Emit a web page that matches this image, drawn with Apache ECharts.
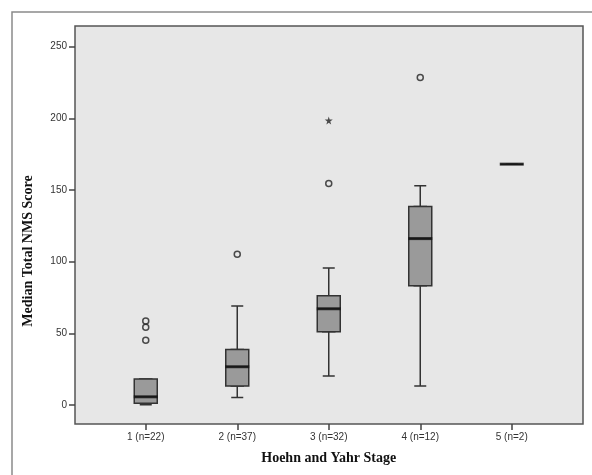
<!DOCTYPE html>
<html>
<head>
<meta charset="utf-8">
<script src="https://cdn.jsdelivr.net/npm/echarts@6/dist/echarts.min.js"></script>
<style>
html, body { margin: 0; padding: 0; background: #fff; }
#chart { width: 592px; height: 475px; }
</style>
</head>
<body>
<div id="chart"></div>
<script>
// Hoehn and Yahr stage groups
var stages = ['1 (n=22)', '2 (n=37)', '3 (n=32)', '4 (n=12)', '5 (n=2)'];
var whiskerLow = [0, 5, 20, 13, 168];
var q1 = [1, 13, 51, 83, 168];
var median = [5.5, 26.5, 67, 116, 168];
var q3 = [18, 38.5, 76, 138.5, 168];
var whiskerHigh = [18, 69, 95.5, 153, 168];
// [stage index, value]
var outliers = [[0, 45], [0, 54], [0, 58.5], [1, 105], [2, 154.5], [3, 228.5]];
var extremes = [[2, 198.5]];
var yTicks = { min: 0, max: 250, step: 50 };
var yRange = { min: -13.5, max: 264.5 };

var whiskerData = [], boxData = [], medianData = [];
for (var i = 0; i < stages.length; i++) {
	whiskerData.push([whiskerLow[i], q1[i], median[i], q3[i], whiskerHigh[i]]);
	boxData.push([q1[i], q1[i], median[i], q3[i], q3[i]]);
	medianData.push([stages[i], median[i]]);
}
function toPoints(arr) {
	var out = [];
	for (var i = 0; i < arr.length; i++) out.push([stages[arr[i][0]], arr[i][1]]);
	return out;
}

var myChart = echarts.init(document.getElementById('chart'));
var labelFont = { fontFamily: 'Liberation Sans, Arial, sans-serif', fontSize: 10, color: '#333' };
var tickStyle = { show: true, length: 6, lineStyle: { color: '#444', width: 1.5 } };

var option = {
	animation: false,
	backgroundColor: '#fff',
	graphic: [
		{ type: 'rect', shape: { x: 12, y: 12, width: 640, height: 520 }, style: { fill: 'none', stroke: '#8a8a8a', lineWidth: 1.5 }, z: -10 },
		{ type: 'text', x: 28, y: 251, rotation: Math.PI / 2,
		  style: { text: 'Median Total NMS Score', font: 'bold 14px "Liberation Serif", "Times New Roman", serif', fill: '#111', textAlign: 'center', textVerticalAlign: 'middle' } }
	],
	grid: [
		// plot frame
		{ left: 75, right: 9, top: 26, bottom: 51, show: true, backgroundColor: '#e7e7e7', borderColor: '#555', borderWidth: 1.5 },
		// boxes
		{ left: 100, right: 34.5, top: 26, bottom: 51 },
		// whiskers
		{ left: 100, right: 34.5, top: 26, bottom: 51 },
		// y tick labels
		{ left: 75, right: 9, top: 46.7, bottom: 70 }
	],
	xAxis: [
		{ gridIndex: 0, type: 'value', show: false },
		{
			gridIndex: 1, type: 'category', data: stages,
			name: 'Hoehn and Yahr Stage', nameLocation: 'middle', nameGap: 27,
			nameTextStyle: { fontFamily: 'Liberation Serif, Times New Roman, serif', fontWeight: 'bold', fontSize: 14, color: '#111' },
			axisLine: { show: false, onZero: false },
			axisTick: Object.assign({ alignWithLabel: true }, tickStyle),
			axisLabel: Object.assign({ margin: 8 }, labelFont),
			splitLine: { show: false }
		},
		{ gridIndex: 2, type: 'category', data: stages, show: false },
		{ gridIndex: 3, type: 'value', show: false }
	],
	yAxis: [
		{ gridIndex: 0, type: 'value', show: false },
		{ gridIndex: 1, type: 'value', min: yRange.min, max: yRange.max, show: false },
		{ gridIndex: 2, type: 'value', min: yRange.min, max: yRange.max, show: false },
		{
			gridIndex: 3, type: 'value', min: yTicks.min, max: yTicks.max, interval: yTicks.step,
			axisLine: { show: false, onZero: false },
			axisTick: tickStyle,
			axisLabel: Object.assign({ margin: 8 }, labelFont),
			splitLine: { show: false }
		}
	],
	series: [
		{
			// whiskers with half-width caps
			type: 'boxplot', xAxisIndex: 2, yAxisIndex: 2, z: 2,
			boxWidth: [12, 12],
			itemStyle: { color: '#9a9a9a', borderColor: '#333', borderWidth: 1.5 },
			emphasis: { disabled: true },
			data: whiskerData
		},
		{
			// interquartile boxes
			type: 'boxplot', xAxisIndex: 1, yAxisIndex: 1, z: 3,
			boxWidth: [23, 23],
			itemStyle: { color: '#9a9a9a', borderColor: '#333', borderWidth: 1.5 },
			emphasis: { disabled: true },
			data: boxData
		},
		{
			// median bars
			type: 'scatter', xAxisIndex: 1, yAxisIndex: 1, z: 4,
			symbol: 'rect', symbolSize: [24, 3],
			itemStyle: { color: '#111' },
			emphasis: { disabled: true },
			data: medianData
		},
		{
			type: 'scatter', xAxisIndex: 1, yAxisIndex: 1, z: 5,
			symbol: 'circle', symbolSize: 6,
			itemStyle: { color: 'transparent', borderColor: '#222', borderWidth: 1.5 },
			emphasis: { disabled: true },
			data: toPoints(outliers)
		},
		{
			type: 'scatter', xAxisIndex: 1, yAxisIndex: 1, z: 5,
			symbol: 'path://M50,0 L61,35 L98,35 L68,57 L79,91 L50,70 L21,91 L32,57 L2,35 L39,35 Z',
			symbolSize: 8,
			itemStyle: { color: '#222' },
			emphasis: { disabled: true },
			data: toPoints(extremes)
		}
	]
};

myChart.setOption(option);
</script>
</body>
</html>
